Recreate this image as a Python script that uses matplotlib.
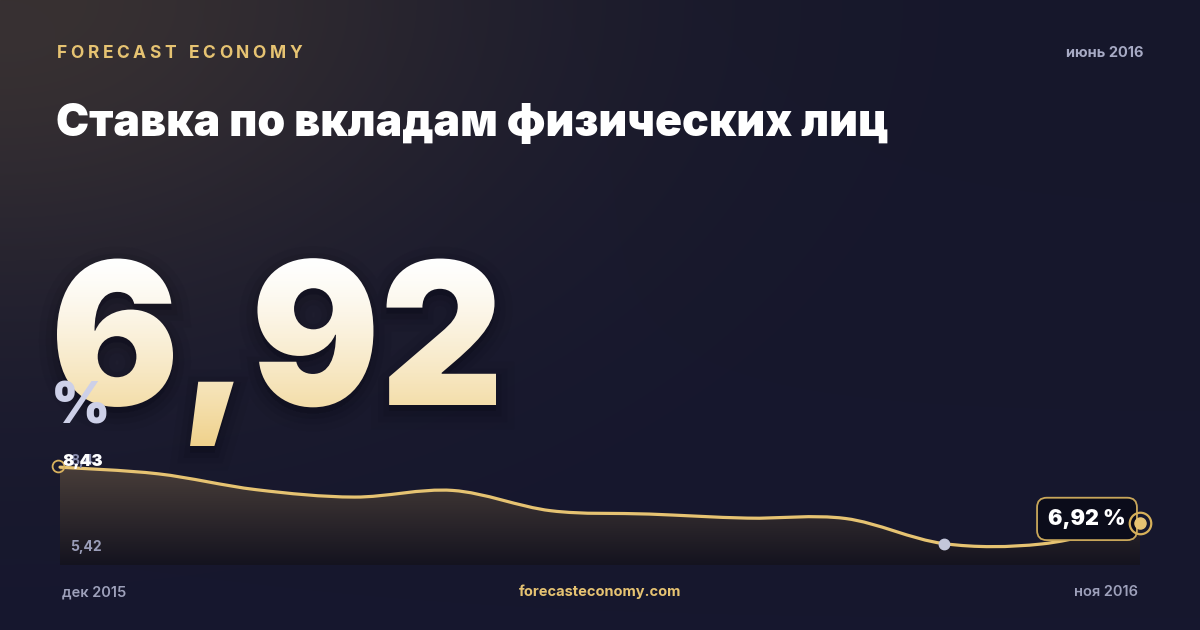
import numpy as np
import matplotlib
matplotlib.use("Agg")
import matplotlib.pyplot as plt
from matplotlib.path import Path
from matplotlib.patches import PathPatch
from matplotlib.textpath import TextPath
from matplotlib.font_manager import FontProperties
from matplotlib.transforms import Affine2D

# data
months = ["дек 2015", "янв 2016", "фев 2016", "мар 2016", "апр 2016", "май 2016",
          "июн 2016", "июл 2016", "авг 2016", "сен 2016", "окт 2016", "ноя 2016"]
rate = [8.43, 8.25, 7.82, 7.62, 7.80, 7.25, 7.16, 7.05, 7.04, 6.36, 6.35, 6.92]
highlight_idx = 9
brand = "FORECAST ECONOMY"
period = "июнь 2016"
title = "Ставка по вкладам физических лиц"
current = "6,92"
max_label = "8,43"
min_label = "5,42"
site = "forecasteconomy.com"

FONT = ["Inter", "DejaVu Sans"]
GOLD = "#e6c372"
plt.rcParams["font.family"] = FONT

W, H = 1200, 630
fig = plt.figure(figsize=(W / 100, H / 100), dpi=100)

# background in pixel coords
bg = fig.add_axes([0, 0, 1, 1])
bg.set_xlim(0, W)
bg.set_ylim(H, 0)
bg.axis("off")
yy, xx = np.mgrid[0:H, 0:W]
base = np.array([22, 23, 43]) / 255
glow = np.array([56, 49, 50]) / 255
d = np.sqrt(xx ** 2 + (yy * 1.6) ** 2)
k = np.exp(-(d / 500) ** 2)[..., None]
img = base + (glow - base) * k
img = img + np.array([0.0, 0.0, 0.012]) * (yy / H)[..., None]
bg.imshow(np.clip(img, 0, 1), extent=[0, W, H, 0], aspect="auto", zorder=0)

# header, letter-spaced
fp_hdr = FontProperties(family=FONT, weight="bold", size=12.5)
r = fig.canvas.get_renderer()
widths = []
for ch in brand:
    if ch == " ":
        widths.append(5)
        continue
    t = bg.text(0, 0, ch, fontproperties=fp_hdr)
    widths.append(t.get_window_extent(r).width)
    t.remove()
gap = (302 - 57 - sum(widths)) / (len(brand) - 1)
x = 57
for ch, w in zip(brand, widths):
    bg.text(x, 53, ch, fontproperties=fp_hdr, color=GOLD, va="center", ha="left")
    x += w + gap

bg.text(1143, 53, period, ha="right", va="center", fontsize=10.5, weight="bold",
        color="#a7aac4")
bg.text(56, 124, title, ha="left", va="center", fontsize=32.0, weight="black",
        color="white")

# big number with vertical gradient
fp_big = FontProperties(family=FONT, weight="black")
tp = TextPath((0, 0), current, size=100, prop=fp_big)
ext = tp.get_extents()
sy = 145 / 73.0
sx = 439 / ext.width
tr = Affine2D().translate(-ext.x0, 0).scale(sx, -sy).translate(57, 405)
big = tr.transform_path(tp)
for lw, a in [(26, 0.05), (16, 0.07), (8, 0.09)]:
    bg.add_patch(PathPatch(Affine2D().translate(0, 6).transform_path(big), fc="#07070f",
                           ec="#07070f", lw=lw, alpha=a, zorder=1))
grad = np.linspace(0, 1, 256)[:, None]
c_top = np.array([1.0, 1.0, 1.0])
c_bot = np.array([240, 210, 140]) / 255
gimg = c_top + (c_bot - c_top) * grad[..., None] ** 1.3
gimg = np.repeat(gimg, 2, axis=1)
bb = big.get_extents()
im = bg.imshow(gimg, extent=[bb.x0, bb.x1, bb.y1, bb.y0], aspect="auto", zorder=2)
clip = PathPatch(big, transform=bg.transData, fc="none", ec="none")
bg.add_patch(clip)
im.set_clip_path(clip)

bg.text(51, 423, "%", ha="left", va="baseline", fontsize=41, weight="black",
        color="#cdd0e8", zorder=3)

# chart
ylow, yhigh = 5.78, 8.76
ax = fig.add_axes([60 / W, 65 / H, 1080 / W, 110 / H])
ax.set_xlim(0, len(rate) - 1)
ax.set_ylim(ylow, yhigh)
ax.axis("off")
ax.patch.set_alpha(0)

xs = np.arange(len(rate))
pts = np.column_stack([xs, rate])
p = np.vstack([pts[0], pts, pts[-1]])
verts = [pts[0]]
codes = [Path.MOVETO]
for i in range(1, len(p) - 2):
    c1 = p[i] + (p[i + 1] - p[i - 1]) / 6
    c2 = p[i + 1] - (p[i + 2] - p[i]) / 6
    verts += [c1, c2, p[i + 1]]
    codes += [Path.CURVE4] * 3
line_path = Path(verts, codes)
fill_path = Path(verts + [(xs[-1], ylow), (xs[0], ylow), (xs[0], rate[0])],
                 codes + [Path.LINETO, Path.LINETO, Path.CLOSEPOLY])

fg = np.linspace(0, 1, 256)[:, None]
f_top = np.array([74, 63, 58]) / 255
f_bot = np.array([20, 19, 31]) / 255
fimg = f_top + (f_bot - f_top) * fg[..., None]
fimg = np.repeat(fimg, 2, axis=1)
fim = ax.imshow(fimg, extent=[xs[0], xs[-1], ylow, 8.5], aspect="auto", zorder=1)
fpatch = PathPatch(fill_path, transform=ax.transData, fc="none", ec="none")
ax.add_patch(fpatch)
fim.set_clip_path(fpatch)
ax.set_xlim(0, len(rate) - 1)
ax.set_ylim(ylow, yhigh)

ax.add_patch(PathPatch(line_path, fc="none", ec=GOLD, lw=2.3, zorder=3,
                       capstyle="round", joinstyle="round", clip_on=False))

ax.plot(xs[0] - 0.02, rate[0] + 0.02, "o", ms=8.5, mfc="none", mec="#d8b25e", mew=1.3,
        zorder=5, clip_on=False)
ax.plot(xs[highlight_idx], rate[highlight_idx], "o", ms=7.5, color="#c3c6da", zorder=5)

# max label (grey, behind) and start label (white)
ax.annotate(max_label, xy=(xs[0], rate[0]), xytext=(10, 6), textcoords="offset pixels",
            ha="left", va="center", fontsize=10, weight="bold", color="#8a8eae", zorder=6)
ax.annotate(max_label, xy=(xs[0], rate[0]), xytext=(2, 6), textcoords="offset pixels",
            ha="left", va="center", fontsize=12, weight="black", color="white", zorder=7)
ax.annotate(min_label, xy=(xs[0], ylow), xytext=(10, 18), textcoords="offset pixels",
            ha="left", va="center", fontsize=10, weight="bold", color="#9a9db8", zorder=6)

ax.annotate(current + " %", xy=(xs[-1], rate[-1]), xytext=(-53, 4), textcoords="offset pixels",
            ha="center", va="center", fontsize=15.5, weight="black", color="white", zorder=8,
            bbox=dict(boxstyle="round,pad=0.52,rounding_size=0.45", fc="#0b0c1a",
                      ec="#c9a75a", lw=1.3), annotation_clip=False)
ax.plot(xs[-1], rate[-1], "o", ms=15.5, mfc="none", mec="#d6b05a", mew=1.6, zorder=9,
        clip_on=False)
ax.plot(xs[-1], rate[-1], "o", ms=8, color=GOLD, zorder=9, clip_on=False)

ax.annotate(months[0], xy=(xs[0], ylow), xytext=(2, -27), textcoords="offset pixels",
            ha="left", va="center", fontsize=10.5, weight="semibold", color="#9ea1bb")
ax.annotate(months[-1], xy=(xs[-1], ylow), xytext=(-2, -27), textcoords="offset pixels",
            ha="right", va="center", fontsize=10.5, weight="semibold", color="#9ea1bb")
bg.text(600, 592, site, ha="center", va="center", fontsize=10.5, weight="bold", color=GOLD)

fig.savefig("out.png", dpi=100)
